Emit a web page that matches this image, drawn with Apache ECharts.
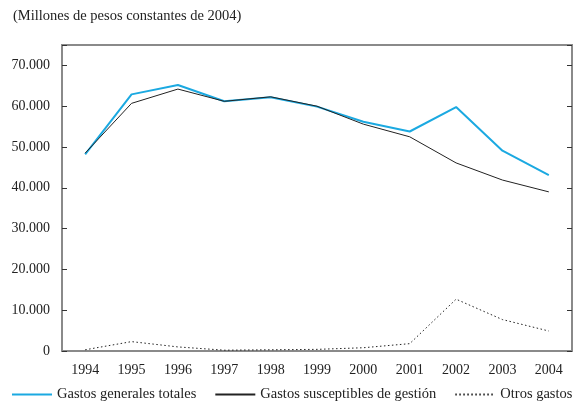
<!DOCTYPE html>
<html><head><meta charset="utf-8">
<script src="https://cdn.jsdelivr.net/npm/echarts@6/dist/echarts.min.js"></script>
<style>html,body{margin:0;padding:0;background:#fff}#c{width:581px;height:402px}</style>
</head><body><div id="c"></div>
<script>
var years = ['1994','1995','1996','1997','1998','1999','2000','2001','2002','2003','2004'];
var gastosGenerales = [48200, 62900, 65200, 61200, 62200, 59900, 56200, 53800, 59800, 49100, 43100];
var gastosSusceptibles = [48500, 60700, 64200, 61200, 62300, 60000, 55600, 52500, 46100, 41900, 39000];
var otrosGastos = [300, 2300, 1000, 200, 300, 400, 800, 1800, 12700, 7700, 4900];
var yTicks = [0, 10000, 20000, 30000, 40000, 50000, 60000, 70000];

var FONT = 'Liberation Serif';
var chart = echarts.init(document.getElementById('c'));
function fmt(v){ if (v === 0) return '0'; if (yTicks.indexOf(v) < 0) return ''; return String(v).replace(/(\d)(?=(\d{3})+$)/g, '$1.'); }
chart.setOption({
  animation: false,
  title: { text: '(Millones de pesos constantes de 2004)', left: 8, top: 4,
    textStyle: { fontFamily: FONT, fontSize: 14.5, fontWeight: 'normal', color: '#222' } },
  grid: { left: 62, right: 9, top: 45, bottom: 51, show: true, borderColor: '#8a8a8a', borderWidth: 2 },
  legend: { top: 382, left: 6, itemWidth: 40, itemHeight: 14, itemGap: 18,
    itemStyle: { opacity: 0 },
    textStyle: { fontFamily: FONT, fontSize: 14.5, color: '#222' },
    data: ['Gastos generales totales', 'Gastos susceptibles de gestión', 'Otros gastos'] },
  xAxis: { type: 'category', data: years, boundaryGap: true,
    axisLine: { lineStyle: { color: '#8a8a8a', width: 2 } },
    axisTick: { inside: true, length: 4, lineStyle: { color: '#333' } },
    axisLabel: { fontFamily: FONT, fontSize: 14, color: '#222', margin: 12 } },
  yAxis: [
    { type: 'value', min: 0, max: 75000, interval: 10000,
      axisLine: { show: true, lineStyle: { color: '#8a8a8a', width: 2 } },
      axisTick: { show: true, inside: true, length: 5, lineStyle: { color: '#333' } },
      splitLine: { show: false },
      axisLabel: { fontFamily: FONT, fontSize: 14, color: '#222', margin: 12, formatter: fmt } },
    { type: 'value', min: 0, max: 75000, interval: 10000, position: 'right',
      axisLine: { show: true, lineStyle: { color: '#8a8a8a', width: 2 } },
      axisTick: { show: true, inside: true, length: 5, lineStyle: { color: '#333' } },
      splitLine: { show: false }, axisLabel: { show: false } }
  ],
  series: [
    { name: 'Gastos generales totales', type: 'line', data: gastosGenerales, symbol: 'none',
      lineStyle: { color: '#1ba9e1', width: 2 }, itemStyle: { color: '#1ba9e1' }, z: 3 },
    { name: 'Gastos susceptibles de gestión', type: 'line', data: gastosSusceptibles, symbol: 'none',
      lineStyle: { color: '#222', width: 1 }, itemStyle: { color: '#222' }, z: 4 },
    { name: 'Otros gastos', type: 'line', data: otrosGastos, symbol: 'none',
      lineStyle: { color: '#222', width: 1, type: [1.5, 2.5] }, itemStyle: { color: '#222' } }
  ]
});
</script></body></html>
